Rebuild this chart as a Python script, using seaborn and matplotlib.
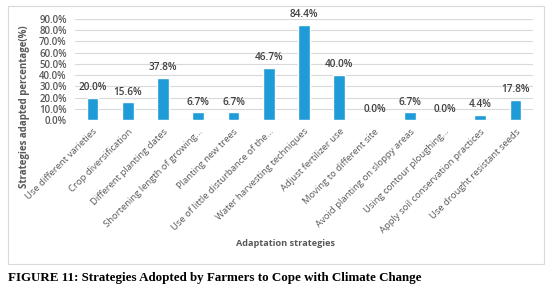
import matplotlib
matplotlib.use("Agg")
import matplotlib.pyplot as plt
import seaborn as sns
import pandas as pd
from matplotlib.patches import Rectangle
from matplotlib.ticker import FuncFormatter

strategies = [
    "Use different varieties",
    "Crop diversification",
    "Different planting dates",
    "Shortening length of growing...",
    "Planting new trees",
    "Use of little disturbance of the...",
    "Water harvesting techniques",
    "Adjust fertilizer use",
    "Moving to different site",
    "Avoid planting on sloppy areas",
    "Using contour ploughing...",
    "Apply soil conservation practices",
    "Use drought resistant seeds",
]
percent = [20.0, 15.6, 37.8, 6.7, 6.7, 46.7, 84.4, 40.0, 0.0, 6.7, 0.0, 4.4, 17.8]

df = pd.DataFrame({"strategy": strategies, "percent": percent})

sns.set_style("white")
plt.rcParams["font.family"] = ["Open Sans", "DejaVu Sans"]

fig = plt.figure(figsize=(5.57, 2.98), dpi=100)
ax = fig.add_axes([75 / 557, 1 - 120 / 298, 458 / 557, 101 / 298])

sns.barplot(data=df, x="strategy", y="percent", color="#1f9bd8",
            width=0.33, ax=ax, saturation=1)

ax.set_ylim(0, 90)
ax.set_yticks(range(0, 91, 10))
ax.yaxis.set_major_formatter(FuncFormatter(lambda v, p: f"{v:.1f}%"))
ax.grid(axis="y", color="#d9d9d9", lw=0.8)
ax.set_axisbelow(True)
for s in ax.spines.values():
    s.set_visible(False)
ax.tick_params(axis="y", length=0, pad=6)
ax.tick_params(axis="x", length=0, pad=5)
for lab in ax.get_yticklabels():
    lab.set_fontsize(7)
    lab.set_color("#595959")
    lab.set_fontweight("semibold")
ax.set_xticks(range(len(strategies)))
ax.set_xticklabels(strategies, rotation=45, ha="right", rotation_mode="anchor",
                   fontsize=6.8, color="#595959")
ax.set_xlabel("")
ax.set_ylabel("")

for c in ax.containers:
    ax.bar_label(c, labels=[f"{v:.1f}%" for v in percent], padding=3.5,
                 fontsize=7.2, color="#404040", fontweight="semibold")

fig.text(25 / 557, 1 - 107 / 298, "Strategies adapted percentage(%)", rotation=90,
         ha="center", va="center", fontsize=7, color="#595959", fontweight="bold")
fig.text(285 / 557, 1 - 244 / 298, "Adaptation strategies", ha="center", va="center",
         fontsize=6.6, color="#595959", fontweight="bold")

fig.patches.append(Rectangle((8 / 557, 1 - 264 / 298), 536 / 557, 258 / 298,
                             transform=fig.transFigure, fill=False,
                             edgecolor="#d9d9d9", lw=0.8))

fig.text(8 / 557, 1 - 278 / 298,
         "FIGURE 11: Strategies Adopted by Farmers to Cope with Climate Change",
         ha="left", va="center", fontsize=9.4, fontweight="bold",
         family=["Liberation Serif"], color="black")

fig.savefig("out.png", dpi=100)
